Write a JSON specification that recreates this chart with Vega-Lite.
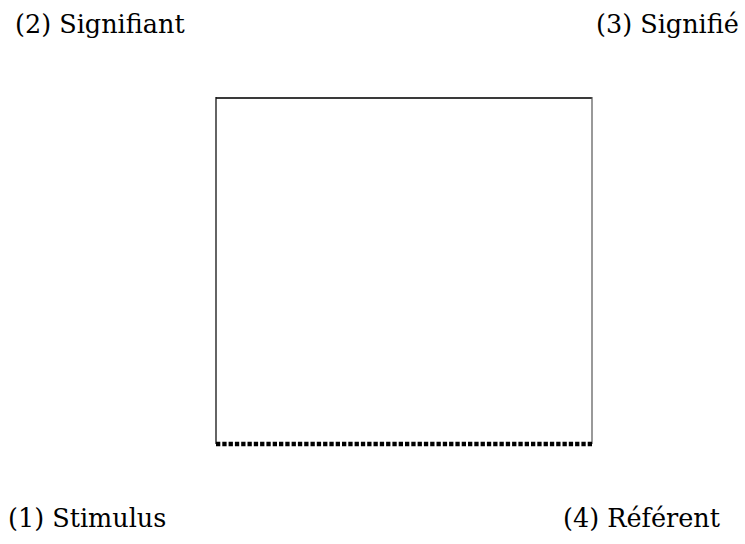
{
  "$schema": "https://vega.github.io/schema/vega-lite/v6.json",
  "width": 745,
  "height": 544,
  "padding": 0,
  "autosize": {"type": "none"},
  "config": {"view": {"stroke": null}},
  "datasets": {
    "edges": [
      {"side": "top", "x": 216, "y": 98, "x2": 592, "y2": 98},
      {"side": "left", "x": 216, "y": 97, "x2": 216, "y2": 444},
      {"side": "right", "x": 592, "y": 97, "x2": 592, "y2": 444},
      {"side": "bottom", "x": 216, "y": 444, "x2": 593, "y2": 444}
    ],
    "labels": [
      {"label": "(2) Signifiant", "x": 15, "y": 33},
      {"label": "(3) Signifié", "x": 596, "y": 33},
      {"label": "(1) Stimulus", "x": 8, "y": 527},
      {"label": "(4) Référent", "x": 563, "y": 527}
    ]
  },
  "layer": [
    {
      "data": {"name": "edges"},
      "transform": [{"filter": "datum.side === 'top'"}],
      "mark": {"type": "rule", "color": "#3a3a3a", "strokeWidth": 2},
      "encoding": {
        "x": {"field": "x", "type": "quantitative", "scale": {"domain": [0, 745], "nice": false, "zero": false}, "axis": null},
        "x2": {"field": "x2"},
        "y": {"field": "y", "type": "quantitative", "scale": {"domain": [544, 0], "nice": false, "zero": false}, "axis": null},
        "y2": {"field": "y2"}
      }
    },
    {
      "data": {"name": "edges"},
      "transform": [{"filter": "datum.side === 'left'"}],
      "mark": {"type": "rule", "color": "#111111", "strokeWidth": 1.3},
      "encoding": {
        "x": {"field": "x", "type": "quantitative", "scale": {"domain": [0, 745], "nice": false, "zero": false}, "axis": null},
        "x2": {"field": "x2"},
        "y": {"field": "y", "type": "quantitative", "scale": {"domain": [544, 0], "nice": false, "zero": false}, "axis": null},
        "y2": {"field": "y2"}
      }
    },
    {
      "data": {"name": "edges"},
      "transform": [{"filter": "datum.side === 'right'"}],
      "mark": {"type": "rule", "color": "#555555", "strokeWidth": 1.2},
      "encoding": {
        "x": {"field": "x", "type": "quantitative", "scale": {"domain": [0, 745], "nice": false, "zero": false}, "axis": null},
        "x2": {"field": "x2"},
        "y": {"field": "y", "type": "quantitative", "scale": {"domain": [544, 0], "nice": false, "zero": false}, "axis": null},
        "y2": {"field": "y2"}
      }
    },
    {
      "data": {"name": "edges"},
      "transform": [{"filter": "datum.side === 'bottom'"}],
      "mark": {"type": "rule", "color": "#000000", "strokeWidth": 4.5, "strokeDash": [4.3, 2]},
      "encoding": {
        "x": {"field": "x", "type": "quantitative", "scale": {"domain": [0, 745], "nice": false, "zero": false}, "axis": null},
        "x2": {"field": "x2"},
        "y": {"field": "y", "type": "quantitative", "scale": {"domain": [544, 0], "nice": false, "zero": false}, "axis": null},
        "y2": {"field": "y2"}
      }
    },
    {
      "data": {"name": "labels"},
      "mark": {"type": "text", "align": "left", "baseline": "alphabetic", "font": "DejaVu Serif", "fontSize": 25.5, "color": "#000000"},
      "encoding": {
        "x": {"field": "x", "type": "quantitative", "scale": {"domain": [0, 745], "nice": false, "zero": false}, "axis": null},
        "y": {"field": "y", "type": "quantitative", "scale": {"domain": [544, 0], "nice": false, "zero": false}, "axis": null},
        "text": {"field": "label"}
      }
    }
  ]
}
